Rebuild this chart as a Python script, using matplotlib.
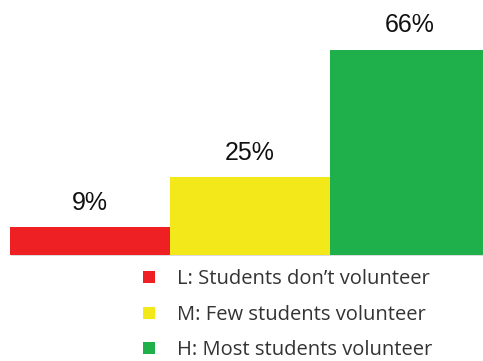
import matplotlib
matplotlib.use("Agg")
import matplotlib.pyplot as plt
import matplotlib.patheffects as pe
from matplotlib.lines import Line2D

# Share of classes by level of volunteering
levels = ["L", "M", "H"]
shares = [9, 25, 66]
colors = ["#ee2024", "#f2e81a", "#20b04b"]
legend_labels = [
    "L: Students don\u2019t volunteer",
    "M: Few students volunteer",
    "H: Most students volunteer",
]

W, H = 483, 361
fig = plt.figure(figsize=(W / 100, H / 100), dpi=100)

# axes in pixel terms: baseline at y=255, each bar 160 px wide starting at x=10
base_px = 255
px_per_pct = 205 / 66
ax = fig.add_axes([10 / W, (H - base_px) / H, 480 / W, base_px / H])
ax.set_xlim(0, 3)
ax.set_ylim(0, base_px / px_per_pct)
ax.axis("off")

x = range(len(levels))
bars = ax.bar(x, shares, width=1.0, align="edge", color=colors, linewidth=0,
              clip_on=False)
for b in bars:
    b.set_path_effects([pe.SimplePatchShadow(offset=(1, -1), shadow_rgbFace="#999999",
                                             alpha=0.35), pe.Normal()])

for b, v in zip(bars, shares):
    ax.annotate(f"{v}%", (b.get_x() + b.get_width() / 2, v), xytext=(0, 9),
                textcoords="offset points", ha="center", va="bottom",
                fontsize=18, family="Liberation Sans", color="#111111")

handles = [Line2D([], [], linestyle="none", marker="s", markersize=8.5,
                  markerfacecolor=c, markeredgewidth=0) for c in colors]
fig.legend(handles, legend_labels, loc="upper left", bbox_to_anchor=(139 / W, 1 - 269 / H),
           frameon=False, handlelength=1.0, handletextpad=0.9, labelspacing=0.78,
           prop={"family": "Open Sans", "size": 14.5}, labelcolor="#333333",
           borderaxespad=0, borderpad=0)

fig.savefig("out.png", dpi=100)
